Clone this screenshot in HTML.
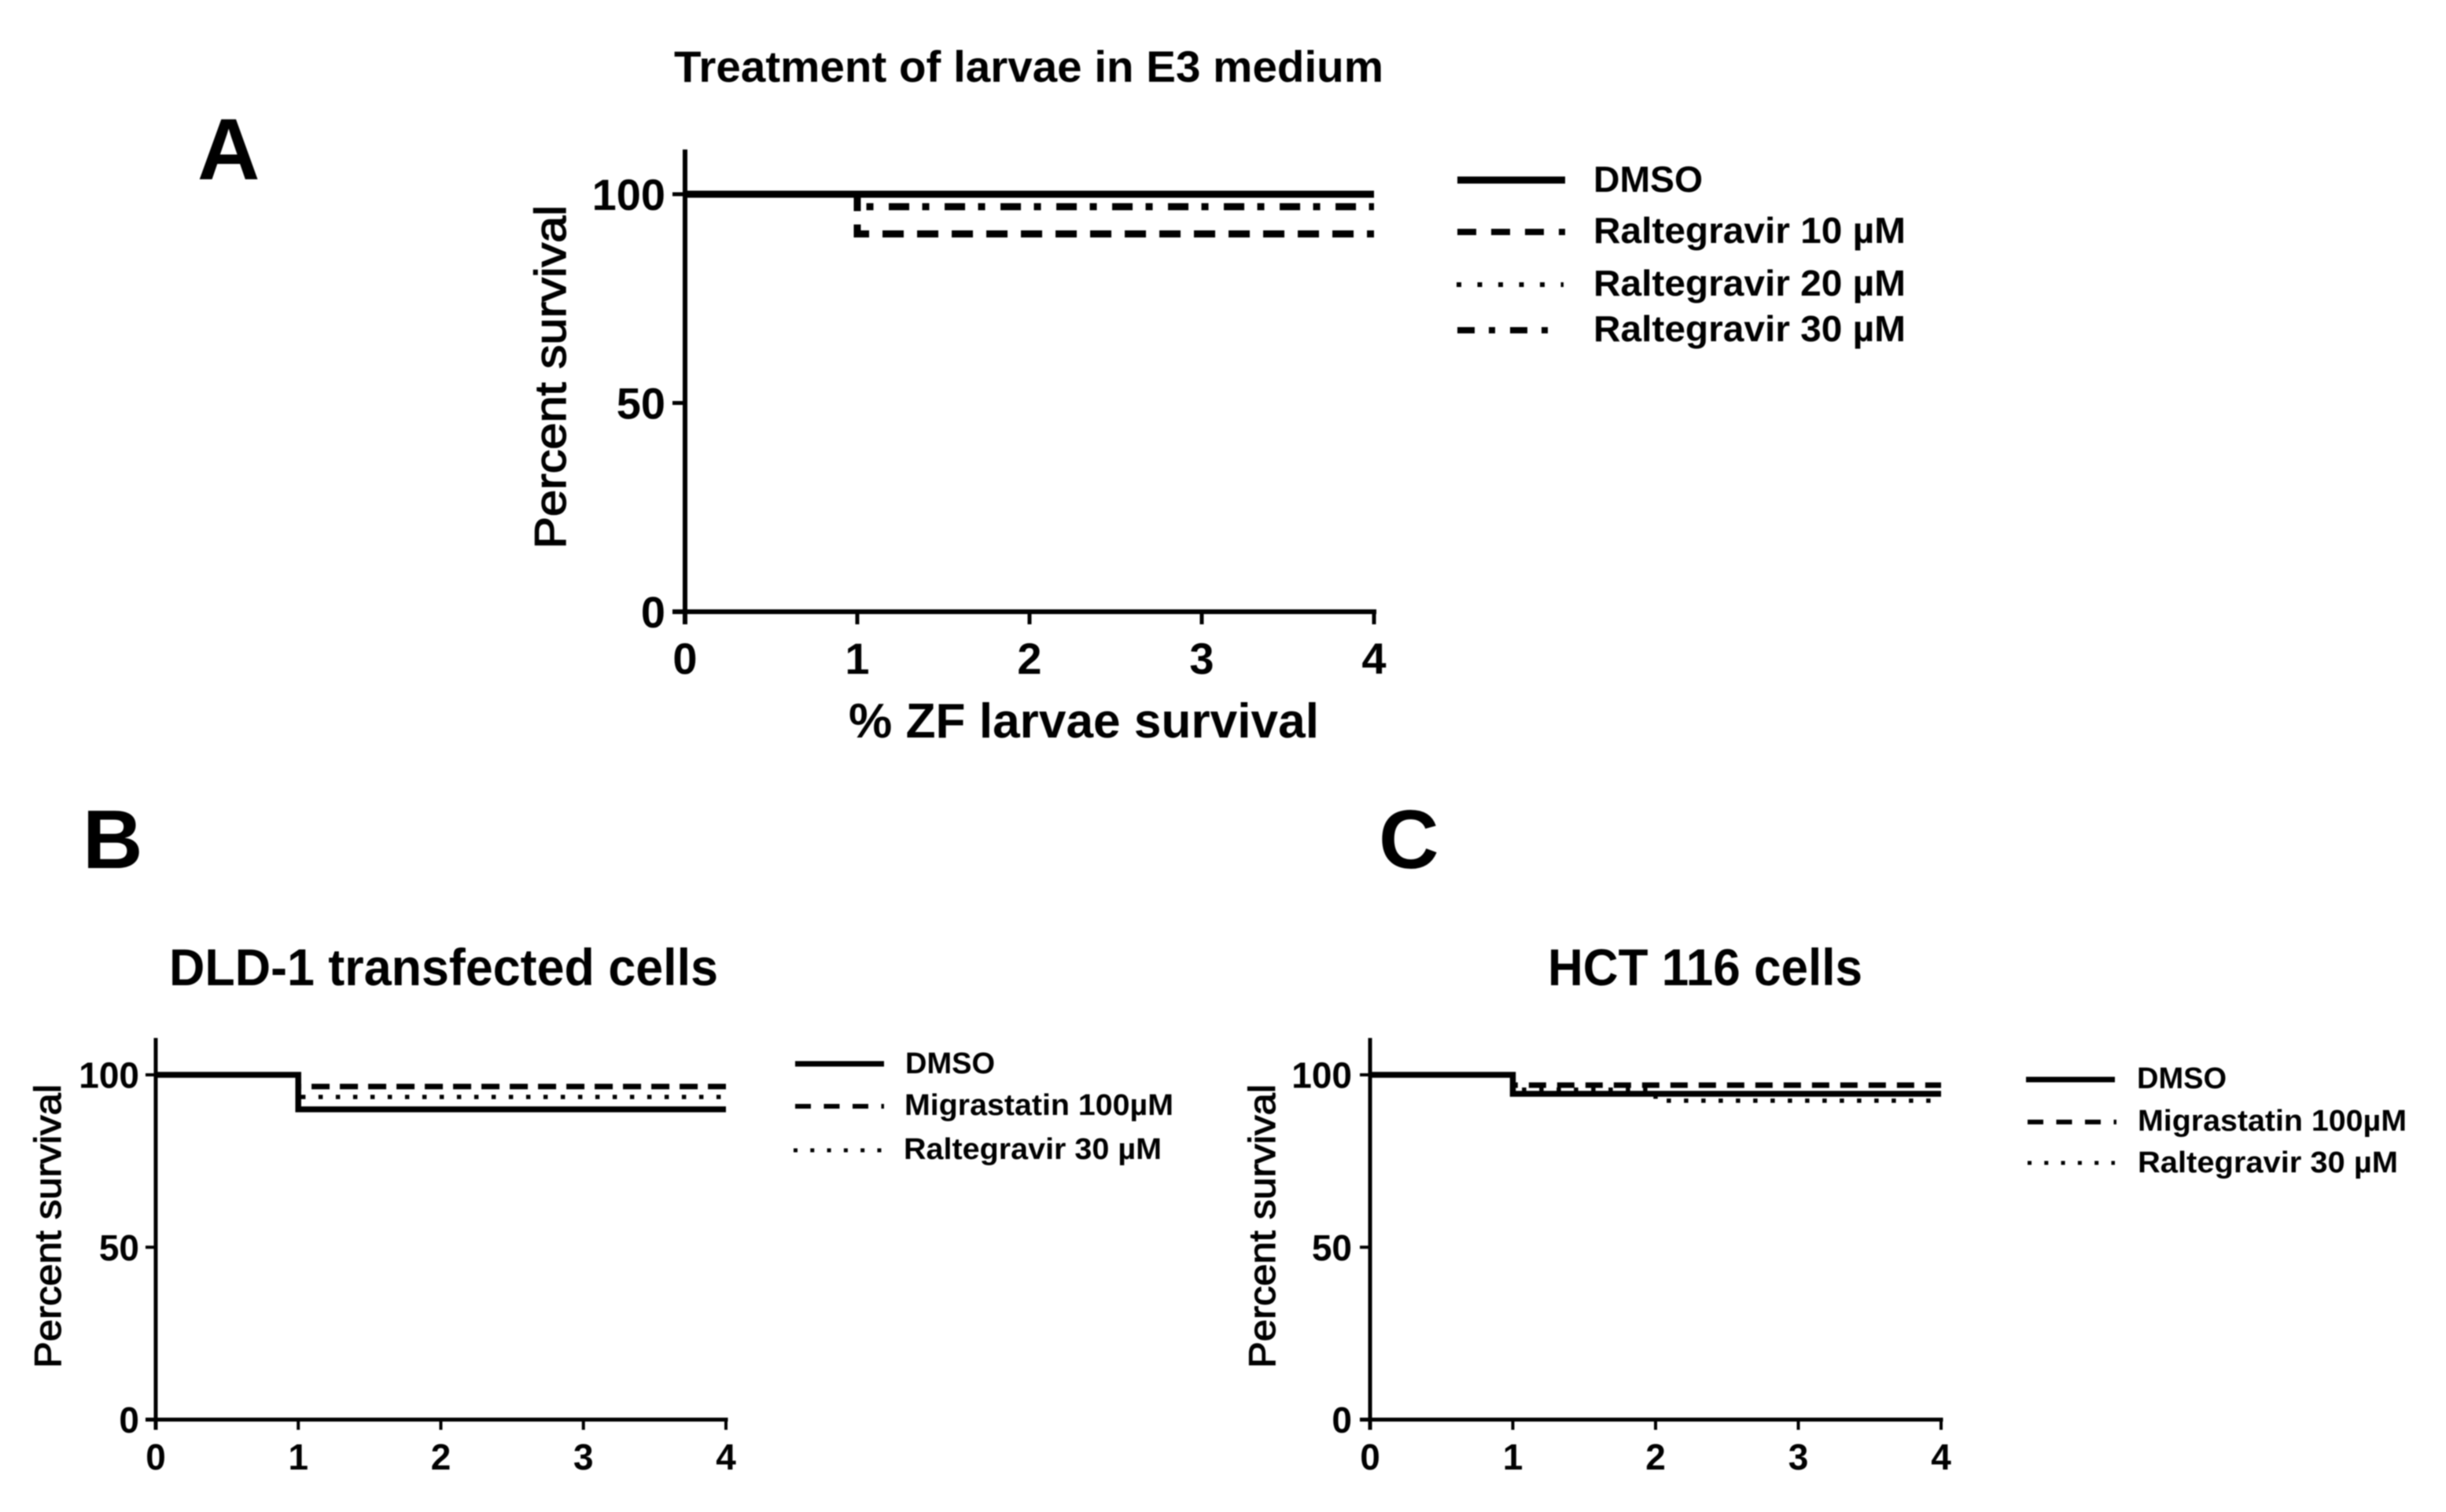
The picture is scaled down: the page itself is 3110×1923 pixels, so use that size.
<!DOCTYPE html>
<html lang="en">
<head>
<meta charset="utf-8">
<title>Percent survival panels</title>
<style>
html,body{margin:0;padding:0;background:#fff;width:3110px;height:1923px;overflow:hidden}
svg{display:block;filter:blur(0.9px)}
text{font-family:"Liberation Sans",sans-serif;fill:#000}
.b{font-weight:700}
</style>
</head>
<body>
<svg id="figure" xmlns="http://www.w3.org/2000/svg" width="3110" height="1923" viewBox="0 0 3110 1923">
<rect width="3110" height="1923" fill="#fff"/>

<text class="b" x="251" y="228" font-size="110">A</text>
<text class="b" x="105" y="1104" font-size="106">B</text>
<text class="b" x="1753" y="1104" font-size="106">C</text>

<text class="b" x="857" y="104" font-size="56" textLength="902" lengthAdjust="spacingAndGlyphs">Treatment of larvae in E3 medium</text>
<text class="b" x="215" y="1253" font-size="66" textLength="698" lengthAdjust="spacingAndGlyphs">DLD-1 transfected cells</text>
<text class="b" x="1968" y="1253" font-size="66" textLength="400" lengthAdjust="spacingAndGlyphs">HCT 116 cells</text>

<text class="b" x="1079" y="938" font-size="62" textLength="598" lengthAdjust="spacingAndGlyphs">% ZF larvae survival</text>
<text transform="translate(719,698) rotate(-90)" font-size="56" stroke="#000" stroke-width="1.4" textLength="437" lengthAdjust="spacingAndGlyphs">Percent survival</text>
<text transform="translate(77,1740) rotate(-90)" font-size="47" stroke="#000" stroke-width="1.2" textLength="361" lengthAdjust="spacingAndGlyphs">Percent survival</text>
<text transform="translate(1621,1740) rotate(-90)" font-size="47" stroke="#000" stroke-width="1.2" textLength="361" lengthAdjust="spacingAndGlyphs">Percent survival</text>

<g>
  <line x1="1853" x2="1990" y1="229" y2="229" stroke="#000" stroke-width="9"/>
  <text class="b" x="2026" y="244" font-size="46" textLength="139" lengthAdjust="spacingAndGlyphs">DMSO</text>
  <line x1="1853" x2="1990" y1="295" y2="295" stroke="#000" stroke-width="8" stroke-dasharray="24 19"/>
  <text class="b" x="2026" y="309" font-size="46" textLength="397" lengthAdjust="spacingAndGlyphs">Raltegravir 10 µM</text>
  <line x1="1852" x2="1988" y1="362" y2="362" stroke="#000" stroke-width="6" stroke-dasharray="6 20.5"/>
  <text class="b" x="2026" y="376" font-size="46" textLength="397" lengthAdjust="spacingAndGlyphs">Raltegravir 20 µM</text>
  <line x1="1853" x2="1970" y1="420" y2="420" stroke="#000" stroke-width="8" stroke-dasharray="22 18 8 19"/>
  <text class="b" x="2026" y="434" font-size="46" textLength="397" lengthAdjust="spacingAndGlyphs">Raltegravir 30 µM</text>
</g>

<g>
  <line x1="1011" x2="1124" y1="1353" y2="1353" stroke="#000" stroke-width="7"/>
  <text class="b" x="1151" y="1365" font-size="38" textLength="114" lengthAdjust="spacingAndGlyphs">DMSO</text>
  <line x1="1011" x2="1124" y1="1407" y2="1407" stroke="#000" stroke-width="6" stroke-dasharray="20 16.5"/>
  <text class="b" x="1150" y="1418" font-size="38" textLength="342" lengthAdjust="spacingAndGlyphs">Migrastatin 100µM</text>
  <line x1="1009" x2="1121" y1="1463" y2="1463" stroke="#000" stroke-width="5" stroke-dasharray="5 16.3"/>
  <text class="b" x="1149" y="1474" font-size="38" textLength="328" lengthAdjust="spacingAndGlyphs">Raltegravir 30 µM</text>
</g>

<g>
  <line x1="2576" x2="2689" y1="1373" y2="1373" stroke="#000" stroke-width="7"/>
  <text class="b" x="2717" y="1384" font-size="38" textLength="114" lengthAdjust="spacingAndGlyphs">DMSO</text>
  <line x1="2578" x2="2691" y1="1427" y2="1427" stroke="#000" stroke-width="6" stroke-dasharray="20 16.5"/>
  <text class="b" x="2718" y="1438" font-size="38" textLength="342" lengthAdjust="spacingAndGlyphs">Migrastatin 100µM</text>
  <line x1="2578" x2="2689" y1="1479" y2="1479" stroke="#000" stroke-width="5" stroke-dasharray="5 16.3"/>
  <text class="b" x="2718" y="1491" font-size="38" textLength="331" lengthAdjust="spacingAndGlyphs">Raltegravir 30 µM</text>
</g>
</svg>

<script>
const timeTicks = [0, 1, 2, 3, 4];
const survivalTicks = [0, 50, 100];
const timeTickLabels = ["0", "1", "2", "3", "4"];
const survivalTickLabels = ["0", "50", "100"];
const survivalAxisMax = 110.7;

const timePoints = [0, 1, 2, 3, 4];

const panelADmso = [100, 100, 100, 100, 100];
const panelARaltegravir10 = [100, 90.5, 90.5, 90.5, 90.5];
const panelARaltegravir20 = [100, 100, 100, 100, 100];
const panelARaltegravir30 = [100, 97, 97, 97, 97];

const panelBDmso = [100, 90, 90, 90, 90];
const panelBMigrastatin100 = [100, 96.6, 96.6, 96.6, 96.6];
const panelBRaltegravir30 = [100, 93.6, 93.6, 93.6, 93.6];

const panelCDmso = [100, 94.5, 94.5, 94.5, 94.5];
const panelCMigrastatin100 = [100, 97, 97, 97, 97];
const panelCRaltegravir30 = [100, 95.7, 92.5, 92.5, 92.5];

const SVG_NS = "http://www.w3.org/2000/svg";
const figure = document.getElementById("figure");

function makeAxes(left, right, bottom, hundred) {
  return {
    x: function (t) { return left + (t / 4) * (right - left); },
    y: function (v) { return bottom - (v / 100) * (bottom - hundred); }
  };
}

function stepPath(axes, values) {
  let d = "M" + axes.x(timePoints[0]) + " " + axes.y(values[0]);
  for (let i = 1; i < values.length; i++) {
    d += " H" + axes.x(timePoints[i]) + " V" + axes.y(values[i]);
  }
  return d;
}

function drawSeries(parent, axes, values, name, width, dash, offset) {
  const path = document.createElementNS(SVG_NS, "path");
  path.setAttribute("d", stepPath(axes, values));
  path.setAttribute("fill", "none");
  path.setAttribute("stroke", "#000");
  path.setAttribute("stroke-width", width);
  if (dash) {
    path.setAttribute("stroke-dasharray", dash);
    path.setAttribute("stroke-dashoffset", offset);
  }
  
  
  parent.appendChild(path);
}

function drawAxes(panelName, axes, opts) {
  const group = document.createElementNS(SVG_NS, "g");
  
  
  figure.appendChild(group);

  const x0 = axes.x(0), x4 = axes.x(4), y0 = axes.y(0);

  const yLine = document.createElementNS(SVG_NS, "line");
  yLine.setAttribute("x1", x0);
  yLine.setAttribute("x2", x0);
  yLine.setAttribute("y1", axes.y(survivalAxisMax));
  yLine.setAttribute("y2", y0 + opts.tick);
  yLine.setAttribute("stroke", "#000");
  yLine.setAttribute("stroke-width", opts.axisWidth);
  
  
  group.appendChild(yLine);

  const xLine = document.createElementNS(SVG_NS, "line");
  xLine.setAttribute("x1", x0 - opts.tick);
  xLine.setAttribute("x2", x4 + opts.axisWidth / 2);
  xLine.setAttribute("y1", y0);
  xLine.setAttribute("y2", y0);
  xLine.setAttribute("stroke", "#000");
  xLine.setAttribute("stroke-width", opts.axisWidth);
  
  
  group.appendChild(xLine);

  timeTicks.forEach(function (t, i) {
    const tick = document.createElementNS(SVG_NS, "line");
    tick.setAttribute("x1", axes.x(t));
    tick.setAttribute("x2", axes.x(t));
    tick.setAttribute("y1", y0);
    tick.setAttribute("y2", y0 + opts.tick);
    tick.setAttribute("stroke", "#000");
    tick.setAttribute("stroke-width", opts.axisWidth - 1);
    
    
    group.appendChild(tick);

    const label = document.createElementNS(SVG_NS, "text");
    label.setAttribute("x", axes.x(t));
    label.setAttribute("y", opts.xLabelBaseline);
    label.setAttribute("text-anchor", "middle");
    label.setAttribute("font-size", opts.fontSize);
    label.setAttribute("class", "b");
    
    
    label.textContent = timeTickLabels[i];
    group.appendChild(label);
  });

  survivalTicks.forEach(function (v, i) {
    const tick = document.createElementNS(SVG_NS, "line");
    tick.setAttribute("x1", x0 - opts.tick);
    tick.setAttribute("x2", x0);
    tick.setAttribute("y1", axes.y(v));
    tick.setAttribute("y2", axes.y(v));
    tick.setAttribute("stroke", "#000");
    tick.setAttribute("stroke-width", opts.axisWidth - 1);
    
    
    group.appendChild(tick);

    const label = document.createElementNS(SVG_NS, "text");
    label.setAttribute("x", x0 - opts.labelGap);
    label.setAttribute("y", axes.y(v) + opts.fontSize * 0.36);
    label.setAttribute("text-anchor", "end");
    label.setAttribute("font-size", opts.fontSize);
    label.setAttribute("class", "b");
    
    
    label.textContent = survivalTickLabels[i];
    group.appendChild(label);
  });
}

function makeSeriesGroup(name) {
  const g = document.createElementNS(SVG_NS, "g");
  
  
  figure.appendChild(g);
  return g;
}

/* Panel A */
const axesA = makeAxes(871, 1747, 778, 247);
drawAxes("panel-a", axesA, { tick: 16, axisWidth: 6, fontSize: 56, xLabelBaseline: 857, labelGap: 25 });
const seriesA = makeSeriesGroup("panel-a-series");
drawSeries(seriesA, axesA, panelARaltegravir10, "series-raltegravir-10", 9, "27 17", -37.5);
drawSeries(seriesA, axesA, panelARaltegravir20, "series-raltegravir-20", 6, "6 20.5", 0);
drawSeries(seriesA, axesA, panelARaltegravir30, "series-raltegravir-30", 9, "26 16.5 9 19.5", -62);
drawSeries(seriesA, axesA, panelADmso, "series-dmso", 9);

/* Panel B */
const axesB = makeAxes(198, 923, 1805.5, 1367);
drawAxes("panel-b", axesB, { tick: 13, axisWidth: 5, fontSize: 46, xLabelBaseline: 1869, labelGap: 21 });
const seriesB = makeSeriesGroup("panel-b-series");
drawSeries(seriesB, axesB, panelBMigrastatin100, "series-migrastatin-100", 7, "23 13", -33);
drawSeries(seriesB, axesB, panelBRaltegravir30, "series-raltegravir-30", 5.5, "5.5 16.5", -15);
drawSeries(seriesB, axesB, panelBDmso, "series-dmso", 7.5);

/* Panel C */
const axesC = makeAxes(1742, 2468, 1805.5, 1367);
drawAxes("panel-c", axesC, { tick: 13, axisWidth: 5, fontSize: 46, xLabelBaseline: 1869, labelGap: 23 });
const seriesC = makeSeriesGroup("panel-c-series");
drawSeries(seriesC, axesC, panelCMigrastatin100, "series-migrastatin-100", 7, "22 14", -35);
drawSeries(seriesC, axesC, panelCRaltegravir30, "series-raltegravir-30", 5.5, "5.5 16.5", -14);
drawSeries(seriesC, axesC, panelCDmso, "series-dmso", 7.5);
</script>
</body>
</html>
